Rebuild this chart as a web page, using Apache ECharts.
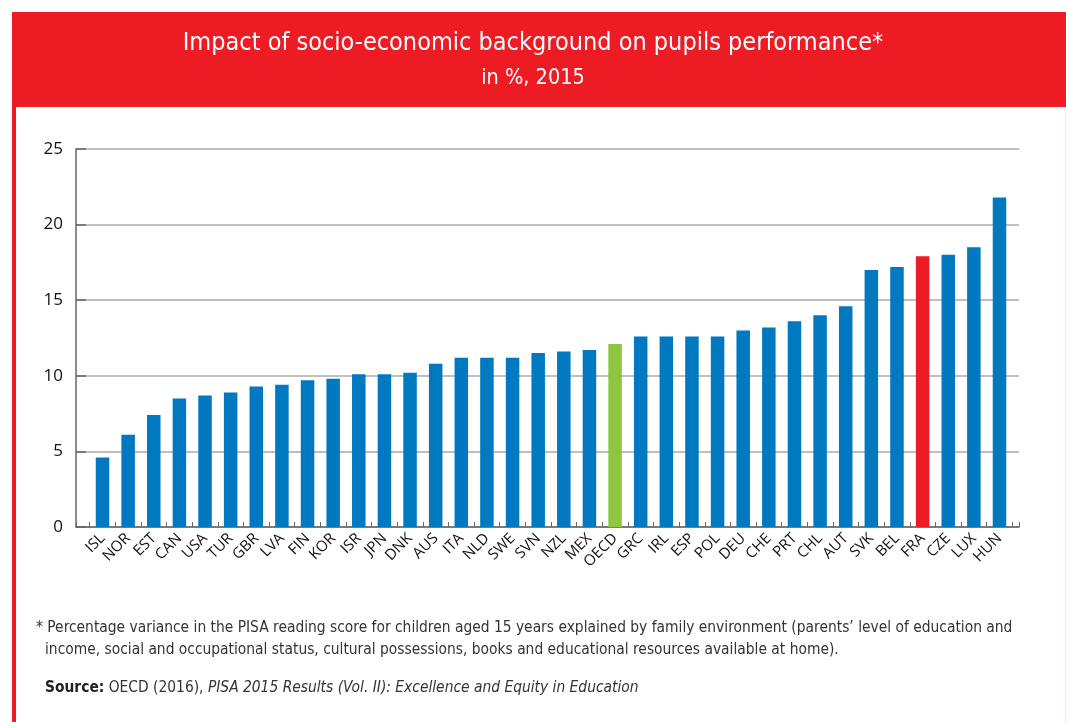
<!DOCTYPE html>
<html>
<head>
<meta charset="utf-8">
<title>Impact of socio-economic background on pupils performance</title>
<script src="https://cdn.jsdelivr.net/npm/echarts@6/dist/echarts.min.js"></script>
<style>
  html, body { margin: 0; padding: 0; background: #fff; }
  #chart { width: 1066px; height: 722px; }
</style>
</head>
<body>
<div id="chart"></div>
<script>
// countries, sorted by value
var countries = ['ISL', 'NOR', 'EST', 'CAN', 'USA', 'TUR', 'GBR', 'LVA', 'FIN', 'KOR', 'ISR', 'JPN',
  'DNK', 'AUS', 'ITA', 'NLD', 'SWE', 'SVN', 'NZL', 'MEX', 'OECD', 'GRC', 'IRL', 'ESP',
  'POL', 'DEU', 'CHE', 'PRT', 'CHL', 'AUT', 'SVK', 'BEL', 'FRA', 'CZE', 'LUX', 'HUN'];
// % of variance explained
var values = [4.6, 6.1, 7.4, 8.5, 8.7, 8.9, 9.3, 9.4, 9.7, 9.8, 10.1, 10.1,
  10.2, 10.8, 11.2, 11.2, 11.2, 11.5, 11.6, 11.7, 12.1, 12.6, 12.6, 12.6,
  12.6, 13.0, 13.2, 13.6, 14.0, 14.6, 17.0, 17.2, 17.9, 18.0, 18.5, 21.8];
var yTicks = [0, 5, 10, 15, 20, 25];

var titleText = 'Impact of socio-economic background on pupils performance*';
var subText = 'in %, 2015';
var noteLine1 = '* Percentage variance in the PISA reading score for children aged 15 years explained by family environment (parents\u2019 level of education and';
var noteLine2 = 'income, social and occupational status, cultural possessions, books and educational resources available at home).';
var sourceLabel = 'Source:';
var sourcePlain = ' OECD (2016), ';
var sourceItalic = 'PISA 2015 Results (Vol. II): Excellence and Equity in Education';

var BLUE = '#0179c1', GREEN = '#8dc63f', RED = '#ed1c24';
var NARROW = '"Liberation Sans Narrow", "DejaVu Sans Condensed", sans-serif';

var barData = [];
for (var i = 0; i < countries.length; i++) {
  var c = BLUE;
  if (countries[i] == 'OECD') c = GREEN;
  if (countries[i] == 'FRA') c = RED;
  barData.push({ value: values[i], itemStyle: { color: c } });
}

var myChart = echarts.init(document.getElementById('chart'), null, { renderer: 'canvas' });

var option = {
  backgroundColor: '#fff',
  animation: false,
  graphic: [
    // red header band + left rule
    { type: 'rect', left: 12, top: 12, shape: { width: 1054, height: 95 }, style: { fill: RED }, z: 0 },
    { type: 'rect', left: 12, top: 107, shape: { width: 4, height: 615 }, style: { fill: RED }, z: 0 },
    { type: 'rect', left: 1065, top: 107, shape: { width: 1, height: 615 }, style: { fill: '#f6e4ea' }, z: 0 },
    {
      type: 'text', left: 'center', top: 31, z: 5,
      style: { text: titleText, fill: '#fff', font: '25px ' + NARROW }
    },
    {
      type: 'text', left: 'center', top: 67, z: 5,
      style: { text: subText, fill: '#fff', font: '21.5px ' + NARROW }
    },
    {
      type: 'text', left: 36, top: 620, z: 5,
      style: { text: noteLine1, fill: '#333', font: '15.4px ' + NARROW }
    },
    {
      type: 'text', left: 45, top: 642, z: 5,
      style: { text: noteLine2, fill: '#333', font: '15.4px ' + NARROW }
    },
    {
      type: 'text', left: 45, top: 680, z: 5,
      style: {
        text: '{b|' + sourceLabel + '}{n|' + sourcePlain + '}{i|' + sourceItalic + '}',
        rich: {
          b: { fill: '#222', font: 'bold 15.4px ' + NARROW },
          n: { fill: '#333', font: '15.4px ' + NARROW },
          i: { fill: '#333', font: 'italic 15.4px ' + NARROW }
        }
      }
    }
  ],
  grid: [
    { left: 76, right: 47, top: 149, bottom: 195 },
    { left: 89.7, right: 53.7, top: 149, bottom: 195 }
  ],
  xAxis: [
    {
      type: 'category', gridIndex: 0, data: [''],
      axisLine: { show: true, lineStyle: { color: '#666', width: 1.5 } },
      axisTick: { show: true, inside: true, length: 5, lineStyle: { color: '#666' } },
      axisLabel: { show: false }
    },
    {
      type: 'category', gridIndex: 1, data: countries,
      axisLine: { show: false },
      axisTick: { show: true, inside: true, length: 5, lineStyle: { color: '#666' } },
      axisLabel: {
        interval: 0, rotate: 45, margin: 9,
        color: '#111', fontSize: 15, fontFamily: '"Open Sans", sans-serif'
      }
    }
  ],
  yAxis: [
    {
      type: 'value', gridIndex: 0, min: 0, max: 25, interval: 5,
      axisLine: { show: true, lineStyle: { color: '#666', width: 1.5 } },
      axisTick: { show: true, inside: true, length: 10, lineStyle: { color: '#666', width: 1.5 } },
      splitLine: { show: true, lineStyle: { color: '#aaa', width: 1.5 } },
      axisLabel: {
        margin: 13, color: '#111', fontSize: 17, fontFamily: '"Open Sans", sans-serif',
        formatter: function(v) { return yTicks.indexOf(v) >= 0 ? String(v) : ''; }
      }
    },
    { type: 'value', gridIndex: 1, min: 0, max: 25, interval: 5, show: false }
  ],
  series: [{
    type: 'bar',
    xAxisIndex: 1,
    yAxisIndex: 1,
    barWidth: 13.5,
    data: barData,
    z: 3
  }]
};

myChart.setOption(option);
window.onresize = function() {
  myChart.resize();
};
</script>
</body>
</html>
